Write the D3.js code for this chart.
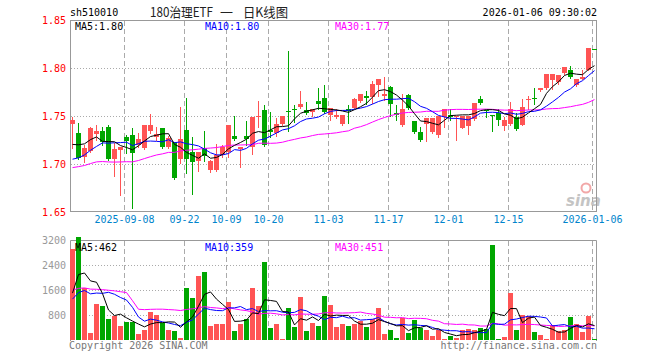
<!DOCTYPE html>
<html>
<head>
<meta charset="utf-8">
<script src="https://cdn.jsdelivr.net/npm/d3@7"></script>
<style>
body { margin: 0; background: #fff; }
svg { display: block; }
text { font-family: "DejaVu Sans Mono", "Liberation Mono", monospace; font-size: 10px; }
</style>
</head>
<body>
<div id="chart"></div>
<script>
// Daily K-line data, 88 trading days
var opens = [1.742,1.732,1.707,1.714,1.731,1.734,1.739,1.705,1.715,1.728,
             1.730,1.720,1.717,1.734,1.728,1.737,1.718,1.723,1.705,1.735,
             1.712,1.703,1.717,1.694,1.694,1.709,1.712,1.729,1.716,1.729,
             1.718,1.749,1.756,1.735,1.732,1.742,1.755,1.757,1.759,1.756,
             1.754,1.766,1.769,1.751,1.749,1.742,1.757,1.758,1.766,1.771,
             1.770,1.782,1.771,1.780,1.753,1.741,1.772,1.745,1.733,1.742,
             1.733,1.730,1.749,1.751,1.749,1.738,1.740,1.747,1.768,1.756,
             1.751,1.753,1.740,1.742,1.749,1.741,1.767,1.769,1.777,1.779,
             1.787,1.785,1.795,1.798,1.782,1.789,1.798,1.820];
var highs = [1.749,1.743,1.720,1.739,1.741,1.739,1.741,1.722,1.718,1.730,
             1.737,1.732,1.741,1.752,1.739,1.737,1.729,1.723,1.759,1.769,
             1.728,1.713,1.734,1.704,1.721,1.720,1.741,1.750,1.718,1.745,
             1.749,1.766,1.761,1.754,1.748,1.750,1.818,1.761,1.776,1.765,
             1.757,1.779,1.782,1.758,1.757,1.751,1.761,1.769,1.773,1.776,
             1.786,1.789,1.791,1.781,1.761,1.773,1.773,1.745,1.739,1.748,
             1.748,1.750,1.757,1.757,1.750,1.750,1.750,1.764,1.771,1.756,
             1.751,1.757,1.749,1.765,1.753,1.768,1.771,1.779,1.779,1.794,
             1.794,1.793,1.801,1.802,1.789,1.798,1.821,1.820];
var lows =  [1.717,1.705,1.702,1.713,1.725,1.720,1.704,1.688,1.668,1.711,
             1.654,1.718,1.716,1.732,1.725,1.717,1.717,1.684,1.701,1.691,
             1.669,1.693,1.703,1.692,1.693,1.707,1.707,1.725,1.697,1.720,
             1.710,1.739,1.719,1.728,1.729,1.741,1.734,1.744,1.758,1.752,
             1.750,1.757,1.753,1.746,1.748,1.741,1.743,1.758,1.765,1.763,
             1.764,1.771,1.767,1.750,1.746,1.740,1.757,1.732,1.724,1.724,
             1.732,1.728,1.739,1.746,1.725,1.737,1.731,1.746,1.763,1.749,
             1.734,1.741,1.735,1.741,1.735,1.741,1.757,1.762,1.776,1.778,
             1.778,1.783,1.794,1.790,1.781,1.789,1.798,1.820];
var closes = [1.746,1.706,1.717,1.738,1.734,1.723,1.705,1.716,1.718,1.724,
              1.711,1.726,1.741,1.741,1.731,1.718,1.727,1.685,1.726,1.705,
              1.702,1.712,1.708,1.703,1.709,1.718,1.741,1.726,1.718,1.726,
              1.749,1.750,1.720,1.733,1.742,1.750,1.754,1.756,1.762,1.753,
              1.757,1.762,1.754,1.758,1.751,1.751,1.755,1.768,1.773,1.769,
              1.783,1.789,1.773,1.763,1.751,1.757,1.758,1.733,1.725,1.748,
              1.748,1.750,1.757,1.749,1.750,1.750,1.750,1.764,1.764,1.755,
              1.750,1.746,1.746,1.757,1.736,1.759,1.768,1.768,1.779,1.794,
              1.794,1.793,1.801,1.791,1.789,1.791,1.821,1.820];
var volumes = [2900,3300,1653,235,1152,1088,672,768,459,565,
               565,192,320,907,800,555,320,288,75,1653,
               1333,2059,2187,459,501,501,1227,288,501,672,
               1653,1099,2507,395,523,32,1035,427,1387,288,
               555,459,1419,1120,427,512,459,512,619,427,
               672,1035,192,320,53,693,235,640,395,320,
               139,320,32,139,53,320,341,320,373,341,
               3040,32,107,1520,320,800,760,267,171,32,
               480,288,310,750,501,245,780,32];

// the 29 sessions before the window, estimated from where the MA lines start
var prevCloses = [1.676,1.680,1.678,1.682,1.712,1.718,1.720,1.714,1.716,1.716,
                  1.684,1.680,1.682,1.678,1.683,1.681,1.685,1.680,1.684,
                  1.688,1.692,1.686,1.690,1.694,1.686,1.708,1.712,1.716,1.720];
var prevVolumes = [1500,1200,1400,1300,1450,1250,1350,1300,1350,8400,
                   8400,700,600,650,550,700,600,680,620,680,
                   1200,1000,1300,900,1180,335,1400,1500,1369];

var tickIdx = [9, 19, 26, 33, 43, 53, 63, 73, 87];
var tickLabels = ["2025-09-08","09-22","10-09","10-20","11-03","11-17","12-01","12-15","2026-01-06"];
var priceTicks = [1.85, 1.80, 1.75, 1.70, 1.65];
var volTicks = [3200, 2400, 1600, 800];

var RED = "#ff5454", GREEN = "#00a600";
var maColors = {5: "#000000", 10: "#0000ff", 30: "#ff00ff"};

function movingAvg(vals, prev, n) {
  var all = prev.concat(vals);
  return vals.map(function(d, i) {
    var end = i + prev.length + 1;
    return d3.mean(all.slice(end - n, end));
  });
}

function candleColor(i) {
  if (closes[i] > opens[i]) return RED;
  if (closes[i] < opens[i]) return GREEN;
  var pc = i > 0 ? closes[i - 1] : prevCloses[prevCloses.length - 1];
  return closes[i] >= pc ? RED : GREEN;
}

var svg = d3.select("#chart").append("svg")
    .attr("width", 660)
    .attr("height", 360);

var left = 70, right = 597;

var x = d3.scaleBand()
    .domain(d3.range(closes.length))
    .range([left, right])
    .paddingInner(1 / 6)
    .paddingOuter(0)
    .align(0);

var yP = d3.scaleLinear().domain([1.65, 1.85]).range([212, 20]);
var yV = d3.scaleLinear().domain([0, 3200]).range([340, 240]);

// header
svg.append("text").attr("x", 70).attr("y", 16).attr("fill", "#000").text("sh510010");
[["180治理ETF", 150, 63], ["一", 220, 13], ["日K线图", 243, 45]].forEach(function(t) {
  svg.append("text").attr("x", t[1]).attr("y", 17)
      .attr("textLength", t[2]).attr("lengthAdjust", "spacingAndGlyphs")
      .style("font-family", "'Noto Sans CJK SC', sans-serif").style("font-size", "13px")
      .attr("fill", "#222").text(t[0]);
});
svg.append("text").attr("x", 597).attr("y", 16).attr("text-anchor", "end")
    .attr("fill", "#000").text("2026-01-06 09:30:02");

// watermark
var wm = svg.append("g");
wm.append("circle").attr("cx", 586).attr("cy", 188).attr("r", 4.5)
    .attr("fill", "none").attr("stroke", "#f2a8a8").attr("stroke-width", 2);
wm.append("text").attr("x", 566).attr("y", 206)
    .style("font-family", "'DejaVu Sans', sans-serif").style("font-size", "15px")
    .style("font-style", "italic").style("font-weight", "bold")
    .attr("fill", "#c4c4c4").text("sina");

// grid lines
function hGrid(vals, scale) {
  svg.append("g").selectAll("line").data(vals).enter().append("line")
      .attr("x1", left + 1).attr("x2", right - 1)
      .attr("y1", function(d) { return Math.round(scale(d)) + 0.5; })
      .attr("y2", function(d) { return Math.round(scale(d)) + 0.5; })
      .attr("stroke", "#aaa").attr("stroke-dasharray", "1,2");
}
hGrid([1.80, 1.75, 1.70], yP);
hGrid([2400, 1600, 800], yV);

function vGrid(y1, y2) {
  svg.append("g").selectAll("line").data(tickIdx).enter().append("line")
      .attr("x1", function(d) { return x(d) + 0.5; })
      .attr("x2", function(d) { return x(d) + 0.5; })
      .attr("y1", y1).attr("y2", y2)
      .attr("stroke", "#aaa").attr("stroke-dasharray", "5,3");
}
vGrid(21, 211);
vGrid(241, 340);

// frames
svg.append("rect").attr("x", left + 0.5).attr("y", 20.5)
    .attr("width", right - left - 1).attr("height", 191)
    .attr("fill", "none").attr("stroke", "#999");
svg.append("path").attr("d", "M70.5,341V240.5H596.5V341")
    .attr("fill", "none").attr("stroke", "#999");

// y axes
var yAxisP = svg.append("g").attr("transform", "translate(66,0)")
    .call(d3.axisLeft(yP).tickValues(priceTicks).tickSize(0).tickPadding(0)
      .tickFormat(d3.format(".2f")));
yAxisP.select(".domain").remove();
yAxisP.selectAll("text").attr("fill", "#ff0000")
    .style("font-family", "'DejaVu Sans Mono', monospace").style("font-size", "10px");

var yAxisV = svg.append("g").attr("transform", "translate(66,0)")
    .call(d3.axisLeft(yV).tickValues(volTicks).tickSize(0).tickPadding(0)
      .tickFormat(d3.format("d")));
yAxisV.select(".domain").remove();
yAxisV.selectAll("text").attr("fill", "#999")
    .style("font-family", "'DejaVu Sans Mono', monospace").style("font-size", "10px");

// x axis (labels centred on the dashed lines)
var xAxis = svg.append("g").attr("transform", "translate(" + (0.5 - x.bandwidth() / 2) + ",212)")
    .call(d3.axisBottom(x).tickValues(tickIdx).tickSize(0).tickPadding(4)
      .tickFormat(function(d) { return tickLabels[tickIdx.indexOf(d)]; }));
xAxis.select(".domain").remove();
xAxis.selectAll("text").attr("fill", "#0084cc")
    .style("font-family", "'DejaVu Sans Mono', monospace").style("font-size", "10px");

// candles
var idx = d3.range(closes.length);
var cx = function(i) { return x(i) + 2.5; };

svg.append("g").selectAll("line").data(idx).enter().append("line")
    .attr("x1", cx).attr("x2", cx)
    .attr("y1", function(i) { return Math.round(yP(highs[i])); })
    .attr("y2", function(i) { return Math.round(yP(lows[i])) + 1; })
    .attr("stroke", candleColor);

svg.append("g").selectAll("rect").data(idx).enter().append("rect")
    .attr("x", function(i) { return x(i); })
    .attr("width", x.bandwidth())
    .attr("y", function(i) { return Math.round(yP(Math.max(opens[i], closes[i]))); })
    .attr("height", function(i) {
      return Math.max(1, Math.round(yP(Math.min(opens[i], closes[i]))) - Math.round(yP(Math.max(opens[i], closes[i]))));
    })
    .attr("fill", candleColor);

// volume bars
svg.append("g").selectAll("rect").data(idx).enter().append("rect")
    .attr("x", function(i) { return x(i); })
    .attr("width", x.bandwidth())
    .attr("y", function(i) { return Math.round(yV(volumes[i])); })
    .attr("height", function(i) { return Math.max(1, 340 - Math.round(yV(volumes[i]))); })
    .attr("fill", candleColor);

// moving averages
var priceMA = {}, volMA = {};
[5, 10, 30].forEach(function(n) {
  priceMA[n] = movingAvg(closes, prevCloses, n);
  volMA[n] = movingAvg(volumes, prevVolumes, n);
});

svg.append("clipPath").attr("id", "clipP").append("rect")
    .attr("x", left + 1).attr("y", 21).attr("width", right - left - 2).attr("height", 190);
svg.append("clipPath").attr("id", "clipV").append("rect")
    .attr("x", left + 1).attr("y", 241).attr("width", right - left - 2).attr("height", 100);

[30, 10, 5].forEach(function(n) {
  svg.append("path").datum(priceMA[n])
      .attr("clip-path", "url(#clipP)")
      .attr("fill", "none").attr("stroke", maColors[n]).attr("stroke-width", 1)
      .attr("d", d3.line().x(function(d, i) { return cx(i); }).y(function(d) { return yP(d); }));
  svg.append("path").datum(volMA[n])
      .attr("clip-path", "url(#clipV)")
      .attr("fill", "none").attr("stroke", maColors[n]).attr("stroke-width", 1)
      .attr("d", d3.line().x(function(d, i) { return cx(i); }).y(function(d) { return yV(d); }));
});

// MA legends
var last = closes.length - 1;
[[5, 75], [10, 205], [30, 335]].forEach(function(p) {
  svg.append("text").attr("x", p[1]).attr("y", 30).attr("fill", maColors[p[0]])
      .text("MA" + p[0] + ":" + d3.format(".2f")(priceMA[p[0]][last]));
  svg.append("text").attr("x", p[1]).attr("y", 251).attr("fill", maColors[p[0]])
      .text("MA" + p[0] + ":" + Math.round(volMA[p[0]][last]));
});

// footer
svg.append("text").attr("x", 69).attr("y", 349).attr("fill", "#777").text("Copyright 2026 SINA.COM");
svg.append("text").attr("x", 597).attr("y", 349).attr("text-anchor", "end")
    .attr("fill", "#777").text("http://finance.sina.com.cn");
</script>
</body>
</html>
